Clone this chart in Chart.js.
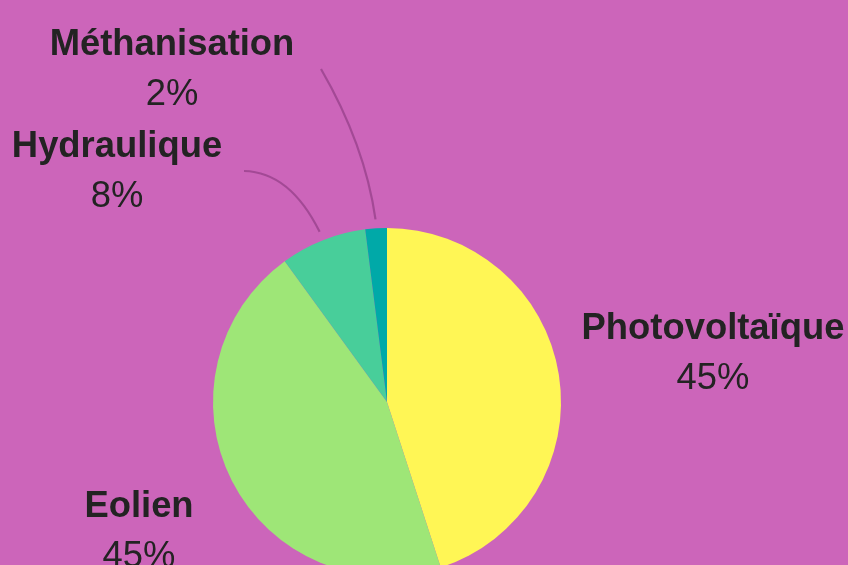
<!DOCTYPE html>
<html lang="fr">
<head>
  <meta charset="UTF-8" />
  <title>Mix énergétique</title>
  <style>
    html, body {
      margin: 0;
      padding: 0;
      overflow: hidden;
      background-color: #cc65ba;
    }
    #wrap {
      width: 848px;
      height: 565px;
      overflow: hidden;
    }
    canvas { display: block; }
  </style>
</head>
<body>
  <div id="wrap">
    <canvas id="mixChart" width="848" height="620"></canvas>
  </div>

  <script src="https://cdn.jsdelivr.net/npm/chart.js"></script>
  <script>
    // data (clockwise from the top)
    const labels = ['Photovoltaïque', 'Eolien', 'Hydraulique', 'Méthanisation'];
    const shares = [45, 45, 8, 2];
    const colors = ['#fff655', '#9ee677', '#48ce9a', '#00a9a8'];

    // label placement, offsets from pie centre (name baseline, then % baseline)
    const labelSpots = [
      { dx: 326, dy: -63, line: false },
      { dx: -248, dy: 115, line: false },
      { dx: -270, dy: -245, line: true, end: [-143, -231], bend: [-97, -230] },
      { dx: -215, dy: -347, line: true, end: [-66, -333], bend: [-22, -257] }
    ];

    const outsideLabels = {
      id: 'outsideLabels',
      afterDatasetsDraw(chart) {
        const ctx = chart.ctx;
        const arcs = chart.getDatasetMeta(0).data;
        ctx.save();
        arcs.forEach((arc, i) => {
          const spot = labelSpots[i];
          const cx = arc.x, cy = arc.y;
          if (spot.line) {
            const mid = (arc.startAngle + arc.endAngle) / 2;
            const r = arc.outerRadius + 9;
            ctx.beginPath();
            ctx.moveTo(cx + Math.cos(mid) * r, cy + Math.sin(mid) * r);
            ctx.quadraticCurveTo(cx + spot.bend[0], cy + spot.bend[1], cx + spot.end[0], cy + spot.end[1]);
            ctx.strokeStyle = 'rgba(135, 55, 125, 0.6)';
            ctx.lineWidth = 2.2;
            ctx.stroke();
          }
          ctx.fillStyle = '#232323';
          ctx.textAlign = 'center';
          ctx.textBaseline = 'alphabetic';
          ctx.font = 'bold 36.4px "Liberation Sans", Arial, sans-serif';
          ctx.fillText(labels[i], cx + spot.dx, cy + spot.dy);
          ctx.font = '36.4px "Liberation Sans", Arial, sans-serif';
          ctx.fillText(shares[i] + '%', cx + spot.dx, cy + spot.dy + 50);
        });
        ctx.restore();
      }
    };

    new Chart(document.getElementById('mixChart'), {
      type: 'pie',
      data: {
        labels: labels,
        datasets: [{
          data: shares,
          backgroundColor: colors,
          borderWidth: 0
        }]
      },
      options: {
        responsive: false,
        animation: false,
        layout: { padding: { left: 213, right: 287, top: 228, bottom: 44 } },
        plugins: {
          legend: { display: false },
          tooltip: { enabled: false }
        }
      },
      plugins: [outsideLabels]
    });
  </script>
</body>
</html>
